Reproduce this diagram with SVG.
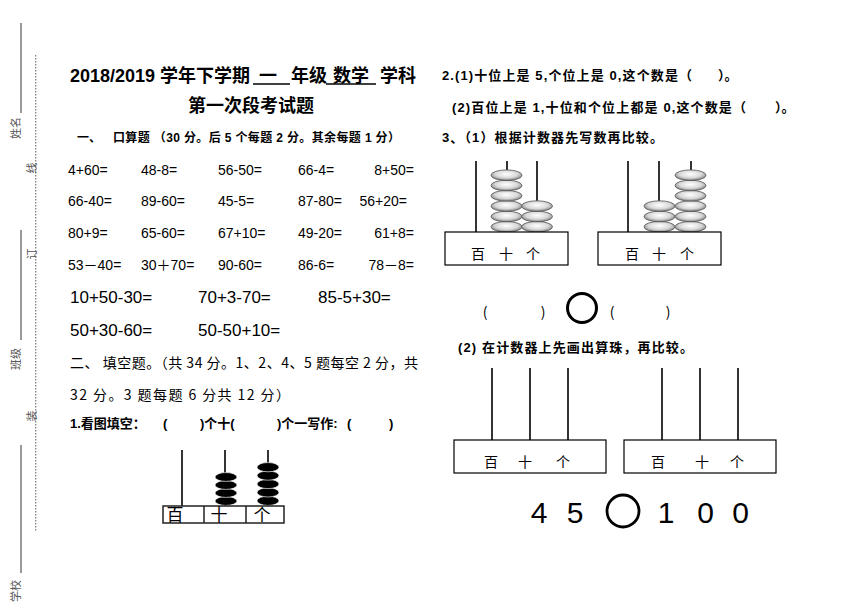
<svg xmlns="http://www.w3.org/2000/svg" width="860" height="609" viewBox="0 0 860 609">
<style>
text{font-family:"Liberation Sans","Noto Sans CJK SC",sans-serif;fill:#000}
.cj{font-family:"Noto Sans CJK SC",sans-serif}
.ttl{font-size:18px;font-weight:bold}
.q{font-size:13px;font-weight:bold;font-family:"Liberation Sans","Noto Sans CJK SC",sans-serif}
.ar{font-size:14px}
.big{font-size:17px}
.mg{font-family:"Noto Sans CJK SC",sans-serif;font-size:11px;fill:#555}
.ln{stroke:#000;stroke-width:1.3;fill:none}
.mline{stroke:#555;stroke-width:1.2}
.bx{fill:#fff;stroke:#000;stroke-width:1.2}
.rod{stroke:#000;stroke-width:1.6}
.gb{fill:url(#bead);stroke:#555;stroke-width:0.8}
.kb{fill:#000;stroke:#fff;stroke-width:0.6}
.lab{font-family:"Noto Sans CJK SC",sans-serif;font-size:14px;text-anchor:middle}
</style>
<defs>
<radialGradient id="bead" cx="50%" cy="40%" r="60%">
<stop offset="0" stop-color="#ffffff"/>
<stop offset="0.6" stop-color="#d8d8d8"/>
<stop offset="1" stop-color="#7a7a7a"/>
</radialGradient>
</defs>
<rect width="860" height="609" fill="#fff"/>

<!-- margin binding -->
<g id="margin">
<line class="mline" x1="21" y1="23" x2="21" y2="113"/>
<line class="mline" x1="21" y1="230" x2="21" y2="340"/>
<line class="mline" x1="21" y1="445" x2="21" y2="573"/>
<line x1="35.7" y1="55" x2="35.7" y2="532" stroke="#777" stroke-width="1.2" stroke-dasharray="1.5 1.5"/>
<text class="mg" transform="translate(20,128) rotate(-90)" text-anchor="middle">姓名</text>
<text class="mg" transform="translate(36,168) rotate(-90)" text-anchor="middle">线</text>
<text class="mg" transform="translate(36,254) rotate(-90)" text-anchor="middle">订</text>
<text class="mg" transform="translate(20,359) rotate(-90)" text-anchor="middle">班级</text>
<text class="mg" transform="translate(36,416) rotate(-90)" text-anchor="middle">装</text>
<text class="mg" transform="translate(20,591) rotate(-90)" text-anchor="middle">学校</text>
</g>

<!-- title -->
<g id="title">
<text class="ttl" x="70" y="82">2018/2019</text>
<text class="ttl" x="160" y="82">学年下学期</text>
<text class="ttl" x="268" y="82" text-anchor="middle">一</text>
<text class="ttl" x="291" y="82">年级</text>
<text class="ttl" x="333" y="82">数学</text>
<text class="ttl" x="380" y="82">学科</text>
<line class="ln" x1="253" y1="84" x2="290" y2="84"/>
<line class="ln" x1="326" y1="84" x2="376" y2="84"/>
<text class="ttl" x="188" y="112">第一次段考试题</text>
</g>

<!-- section 1 -->
<g id="sec1">
<text class="q" style="font-size:12px" x="77" y="142">一、</text>
<text class="q" style="font-size:12px" x="113" y="142" textLength="287" lengthAdjust="spacing">口算题 （30 分。后 5 个每题 2 分。其余每题 1 分）</text>
<g class="ar">
<text x="68" y="175">4+60=</text><text x="141" y="175">48-8=</text><text x="218" y="175">56-50=</text><text x="298" y="175">66-4=</text><text x="414" y="175" text-anchor="end">8+50=</text>
<text x="68" y="206">66-40=</text><text x="141" y="206">89-60=</text><text x="218" y="206">45-5=</text><text x="298" y="206">87-80=</text><text x="407" y="206" text-anchor="end">56+20=</text>
<text x="68" y="238">80+9=</text><text x="141" y="238">65-60=</text><text x="218" y="238">67+10=</text><text x="298" y="238">49-20=</text><text x="414" y="238" text-anchor="end">61+8=</text>
<text x="68" y="270">53－40=</text><text x="141" y="270">30＋70=</text><text x="218" y="270">90-60=</text><text x="298" y="270">86-6=</text><text x="414" y="270" text-anchor="end">78－8=</text>
</g>
<g class="big">
<text x="70" y="303">10+50-30=</text><text x="198" y="303">70+3-70=</text><text x="318" y="303">85-5+30=</text>
<text x="70" y="336">50+30-60=</text><text x="198" y="336">50-50+10=</text>
</g>
</g>

<!-- section 2 -->
<g id="sec2">
<text class="cj" style="font-size:14px" x="70" y="368" textLength="348" lengthAdjust="spacing">二、 填空题。（共 34 分。1、2、4、5 题每空 2 分，共</text>
<text class="cj" style="font-size:14px" x="70" y="400" textLength="220" lengthAdjust="spacing">32 分。3 题每题 6 分共 12 分）</text>
<text class="q" x="70" y="428">1.看图填空：</text>
<text class="q" x="163" y="428">(</text>
<text class="q" x="200" y="428">)个十(</text>
<text class="q" x="277" y="428">)个一写作:</text>
<text class="q" x="347" y="428">(</text>
<text class="q" x="389" y="428">)</text>
</g>

<!-- small abacus -->
<g id="abacus-small">
<line class="rod" x1="182" y1="450" x2="182" y2="506"/>
<line class="rod" x1="225" y1="450" x2="225" y2="506"/>
<line class="rod" x1="268" y1="450" x2="268" y2="506"/>
<ellipse class="kb" cx="226" cy="501" rx="11" ry="4.4"/>
<ellipse class="kb" cx="226" cy="493" rx="11" ry="4.4"/>
<ellipse class="kb" cx="226" cy="485" rx="11" ry="4.4"/>
<ellipse class="kb" cx="226" cy="477" rx="11" ry="4.4"/>
<ellipse class="kb" cx="268" cy="500.8" rx="11" ry="4.6"/>
<ellipse class="kb" cx="268" cy="492.4" rx="11" ry="4.6"/>
<ellipse class="kb" cx="268" cy="484" rx="11" ry="4.6"/>
<ellipse class="kb" cx="268" cy="475.6" rx="11" ry="4.6"/>
<ellipse class="kb" cx="268" cy="467.2" rx="11" ry="4.6"/>
<rect x="163" y="506" width="121" height="17" fill="#fff" stroke="#222" stroke-width="1.5"/>
<line x1="204" y1="506" x2="204" y2="523" stroke="#222" stroke-width="1.5"/>
<line x1="246" y1="506" x2="246" y2="523" stroke="#222" stroke-width="1.5"/>
<text class="lab" style="font-size:17px" x="175" y="521">百</text>
<text class="lab" style="font-size:17px" x="219" y="521">十</text>
<text class="lab" style="font-size:17px" x="262" y="521">个</text>
</g>

<!-- right column questions -->
<g id="q2">
<text class="q" x="442" y="80" textLength="250" lengthAdjust="spacing">2.(1)十位上是 5,个位上是 0,这个数是（</text>
<text class="q" x="718" y="80">）。</text>
<text class="q" x="452" y="112" textLength="294" lengthAdjust="spacing">(2)百位上是 1,十位和个位上都是 0,这个数是（</text>
<text class="q" x="775" y="112">）。</text>
<text class="q" x="442" y="142" textLength="221" lengthAdjust="spacing">3、（1）根据计数器先写数再比较。</text>
</g>

<!-- abacus 1 -->
<g id="abacus-1">
<line class="rod" x1="476" y1="161" x2="476" y2="232"/>
<line class="rod" x1="507" y1="161" x2="507" y2="232"/>
<line class="rod" x1="537" y1="161" x2="537" y2="232"/>
<ellipse class="gb" cx="506.5" cy="226.8" rx="15.5" ry="5.3"/>
<ellipse class="gb" cx="506.5" cy="216.5" rx="15.5" ry="5.3"/>
<ellipse class="gb" cx="506.5" cy="206.1" rx="15.5" ry="5.3"/>
<ellipse class="gb" cx="506.5" cy="195.8" rx="15.5" ry="5.3"/>
<ellipse class="gb" cx="506.5" cy="185.5" rx="15.5" ry="5.3"/>
<ellipse class="gb" cx="506.5" cy="175.2" rx="15.5" ry="5.3"/>
<ellipse class="gb" cx="537" cy="226.8" rx="15.5" ry="5.3"/>
<ellipse class="gb" cx="537" cy="216.5" rx="15.5" ry="5.3"/>
<ellipse class="gb" cx="537" cy="206.1" rx="15.5" ry="5.3"/>
<rect class="bx" x="445" y="232" width="123" height="33"/>
<text class="lab" x="478" y="259">百</text>
<text class="lab" x="506" y="259">十</text>
<text class="lab" x="533" y="259">个</text>
</g>

<!-- abacus 2 -->
<g id="abacus-2">
<line class="rod" x1="628" y1="161" x2="628" y2="232"/>
<line class="rod" x1="659" y1="161" x2="659" y2="232"/>
<line class="rod" x1="691" y1="161" x2="691" y2="232"/>
<ellipse class="gb" cx="659.5" cy="226.8" rx="15.5" ry="5.3"/>
<ellipse class="gb" cx="659.5" cy="216.5" rx="15.5" ry="5.3"/>
<ellipse class="gb" cx="659.5" cy="206.1" rx="15.5" ry="5.3"/>
<ellipse class="gb" cx="690.5" cy="226.8" rx="15.5" ry="5.3"/>
<ellipse class="gb" cx="690.5" cy="216.5" rx="15.5" ry="5.3"/>
<ellipse class="gb" cx="690.5" cy="206.1" rx="15.5" ry="5.3"/>
<ellipse class="gb" cx="690.5" cy="195.8" rx="15.5" ry="5.3"/>
<ellipse class="gb" cx="690.5" cy="185.5" rx="15.5" ry="5.3"/>
<ellipse class="gb" cx="690.5" cy="175.2" rx="15.5" ry="5.3"/>
<rect class="bx" x="598" y="232" width="123" height="33"/>
<text class="lab" x="632" y="259">百</text>
<text class="lab" x="659" y="259">十</text>
<text class="lab" x="687" y="259">个</text>
</g>

<!-- compare 1 -->
<g id="compare-1">
<text class="cj" style="font-size:14px" x="485" y="317" text-anchor="middle">(</text>
<text class="cj" style="font-size:14px" x="543" y="317" text-anchor="middle">)</text>
<circle cx="582" cy="308" r="14.5" fill="none" stroke="#000" stroke-width="3"/>
<text class="cj" style="font-size:14px" x="612" y="317" text-anchor="middle">(</text>
<text class="cj" style="font-size:14px" x="668" y="317" text-anchor="middle">)</text>
</g>

<g id="q3-2">
<text class="q" x="458" y="352" textLength="235" lengthAdjust="spacing">(2) 在计数器上先画出算珠，再比较。</text>
</g>

<!-- abacus 3 -->
<g id="abacus-3">
<line class="rod" x1="492" y1="368" x2="492" y2="440"/>
<line class="rod" x1="530" y1="368" x2="530" y2="440"/>
<line class="rod" x1="568" y1="368" x2="568" y2="440"/>
<rect class="bx" x="454" y="440" width="152" height="33"/>
<text class="lab" x="491" y="467">百</text>
<text class="lab" x="525" y="467">十</text>
<text class="lab" x="563" y="467">个</text>
</g>

<!-- abacus 4 -->
<g id="abacus-4">
<line class="rod" x1="662" y1="368" x2="662" y2="440"/>
<line class="rod" x1="700" y1="368" x2="700" y2="440"/>
<line class="rod" x1="738" y1="368" x2="738" y2="440"/>
<rect class="bx" x="624" y="440" width="152" height="33"/>
<text class="lab" x="658" y="467">百</text>
<text class="lab" x="702" y="467">十</text>
<text class="lab" x="737" y="467">个</text>
</g>

<!-- compare 2 -->
<g id="compare-2" style="font-size:30px">
<text x="539" y="523" text-anchor="middle">4</text>
<text x="575" y="523" text-anchor="middle">5</text>
<circle cx="623" cy="511" r="16" fill="none" stroke="#000" stroke-width="2.8"/>
<text x="666" y="523" text-anchor="middle">1</text>
<text x="705.5" y="523" text-anchor="middle">0</text>
<text x="740.5" y="523" text-anchor="middle">0</text>
</g>
</svg>
